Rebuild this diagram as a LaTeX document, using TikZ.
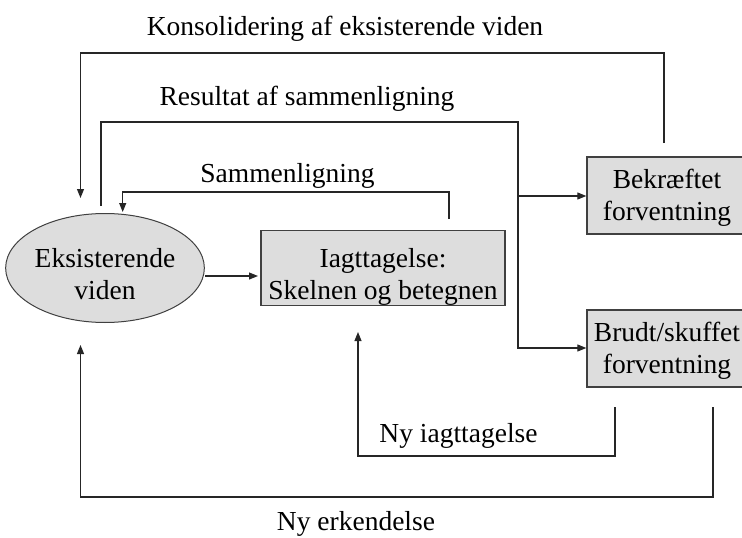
\documentclass[tikz,border=0pt]{standalone}
\usepackage{fontspec}
\setmainfont{Liberation Serif}
\usetikzlibrary{shapes.geometric,arrows.meta,calc}
\definecolor{boxfill}{HTML}{DDDDDD}
\definecolor{boxline}{HTML}{404040}
\begin{document}
\begin{tikzpicture}[x=1pt,y=-1pt,
  every node/.style={font=\fontsize{27.5}{32}\selectfont, inner sep=0pt},
  shapebox/.style={draw=boxline, fill=boxfill, line width=1.3pt, align=center},
  conn/.style={line width=1.1pt, draw=black!85},
  arr/.style={conn, -{Triangle[length=9pt,width=7pt]}},
  lbl/.style={anchor=base}]
\useasboundingbox (0,0) rectangle (742,538);
% nodes
\node[shapebox, ellipse, line width=1pt, minimum width=188pt, minimum height=109pt] (ell) at (105,268) {\rule{0pt}{31pt}Eksisterende\\viden};
\node[shapebox, rectangle, minimum width=244pt, minimum height=70pt] (obs) at (383,268) {\rule{0pt}{37pt}Iagttagelse:\\Skelnen og betegnen};
\node[shapebox, rectangle, minimum width=160pt, minimum height=77pt] (bek) at (667,195.5) {\rule{0pt}{23pt}Bekræftet\\forventning};
\node[shapebox, rectangle, minimum width=160pt, minimum height=77pt] (brud) at (667,348.5) {\rule{0pt}{23pt}Brudt/skuffet\\forventning};
% labels
\node[lbl] (lk) at (345,35) {Konsolidering af eksisterende viden};
\node[lbl] (lr) at (307,105) {Resultat af sammenligning};
\node[lbl] (ls) at (287.5,182) {Sammenligning};
\node[lbl] (li) at (458.5,442) {Ny iagttagelse};
\node[lbl] (le) at (356,530) {Ny erkendelse};
% coordinates
\coordinate (a0) at (205,276);
\coordinate (a1) at (258,276);
\coordinate (s0) at (449,219);
\coordinate (s1) at (449,192);
\coordinate (s2) at (122.7,192);
\coordinate (s3) at (122.7,212);
\coordinate (r0) at (101,206);
\coordinate (r1) at (101,122);
\coordinate (r2) at (518,122);
\coordinate (r3) at (518,348);
\coordinate (rb) at (518,196);
\coordinate (k0) at (664,143);
\coordinate (k1) at (664,53);
\coordinate (k2) at (80.5,53);
\coordinate (k3) at (80.5,198);
\coordinate (e0) at (713,407);
\coordinate (e1) at (713,497);
\coordinate (e2) at (80.5,497);
\coordinate (e3) at (80.5,345);
\coordinate (i0) at (615,407);
\coordinate (i1) at (615,456);
\coordinate (i2) at (358,456);
\coordinate (i3) at (358,332);
% connectors
\draw[arr] (a0) -- (a1);
\draw[arr] (s0) -- (s1) -- (s2) -- (s3);
\draw[arr] (r0) -- (r1) -- (r2) -- (r3) -- (brud.west |- r3);
\draw[arr] (rb) -- (bek.west |- rb);
\draw[arr] (k0) -- (k1) -- (k2) -- (k3);
\draw[arr] (e0) -- (e1) -- (e2) -- (e3);
\draw[arr] (i0) -- (i1) -- (i2) -- (i3);
\end{tikzpicture}
\end{document}
